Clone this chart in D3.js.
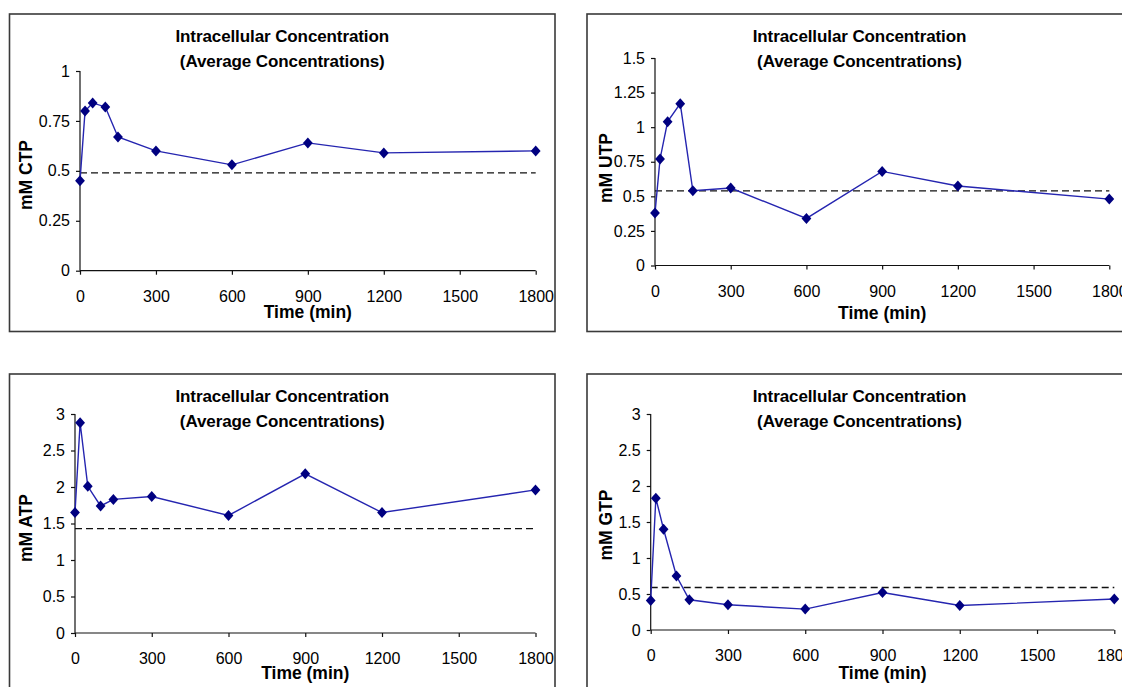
<!DOCTYPE html>
<html>
<head>
<meta charset="utf-8">
<script src="https://cdn.jsdelivr.net/npm/d3@7"></script>
<style>
  html, body { margin: 0; padding: 0; background: #fff; }
  svg { display: block; }
  text { font-family: Arial, "Liberation Sans", sans-serif; fill: #000; }
</style>
</head>
<body>
<svg id="chart" width="1122" height="687"></svg>
<script>
// Sampling times (min), shared by every panel
const times = [0, 20, 50, 100, 150, 300, 600, 900, 1200, 1800];

// Average intracellular concentrations (mM)
const ctp = [0.45, 0.80, 0.84, 0.82, 0.67, 0.60, 0.53, 0.64, 0.59, 0.60];
const utp = [0.38, 0.77, 1.04, 1.17, 0.54, 0.56, 0.34, 0.68, 0.575, 0.48];
const atp = [1.65, 2.88, 2.01, 1.74, 1.83, 1.87, 1.61, 2.18, 1.65, 1.96];
const gtp = [0.41, 1.83, 1.40, 0.75, 0.42, 0.35, 0.29, 0.52, 0.34, 0.43];

// Reference (dashed) level for each nucleotide
const nucleotides = ["CTP", "UTP", "ATP", "GTP"];
const referenceLevels = [0.49, 0.54, 1.43, 0.59];

// Axis ticks
const xTicks = [0, 300, 600, 900, 1200, 1500, 1800];
const yTicksSmall = [0, 0.25, 0.5, 0.75, 1];
const yTicksMid = [0, 0.25, 0.5, 0.75, 1, 1.25, 1.5];
const yTicksLarge = [0, 0.5, 1, 1.5, 2, 2.5, 3];

const titleLines = ["Intracellular Concentration", "(Average Concentrations)"];
const xTitle = "Time (min)";

const series = [ctp, utp, atp, gtp];
const yTickSets = [yTicksSmall, yTicksMid, yTicksLarge, yTicksLarge];

// Panel layout (pixel geometry)
const layout = [
  { frame: [9.5, 14, 555, 331.5], x0: 80, x1: 535.7, yTop: 71, yBot: 270.7, titleY: 36, xTitleY: 312, yTitleX: 26, yTitleY: 175 },
  { frame: [587, 14, 1132, 331.5], x0: 655, x1: 1109.3, yTop: 58, yBot: 265.5, titleY: 36, xTitleY: 312.5, yTitleX: 606, yTitleY: 168 },
  { frame: [9.5, 374, 555, 700], x0: 75, x1: 535.5, yTop: 414, yBot: 633, titleY: 396, xTitleY: 672.5, yTitleX: 26, yTitleY: 528 },
  { frame: [587, 374, 1132, 700], x0: 650.7, x1: 1114.3, yTop: 414, yBot: 630, titleY: 396, xTitleY: 672.5, yTitleX: 606, yTitleY: 525 }
];

// Diamond marker, a little wider than d3's built-in diamond
const diamond = {
  draw(ctx, size) {
    const w = 4.9, h = 5.5;
    ctx.moveTo(0, -h); ctx.lineTo(w, 0); ctx.lineTo(0, h); ctx.lineTo(-w, 0); ctx.closePath();
  }
};

const svg = d3.select("#chart");

nucleotides.forEach((name, i) => {
  const L = layout[i];
  const values = series[i];
  const yTicks = yTickSets[i];
  const g = svg.append("g");

  // Outer frame
  const [fx0, fy0, fx1, fy1] = L.frame;
  g.append("rect")
    .attr("x", fx0).attr("y", fy0)
    .attr("width", fx1 - fx0).attr("height", fy1 - fy0)
    .attr("fill", "none").attr("stroke", "#3a3a3a").attr("stroke-width", 1.6);

  const x = d3.scaleLinear().domain([0, 1800]).range([L.x0, L.x1]);
  const y = d3.scaleLinear().domain([0, d3.max(yTicks)]).range([L.yBot, L.yTop]);

  // Titles
  const cx = (fx0 + fx1) / 2;
  titleLines.forEach((t, k) => {
    g.append("text")
      .attr("x", cx).attr("y", L.titleY + k * 25)
      .attr("text-anchor", "middle").attr("dominant-baseline", "central")
      .attr("font-size", 17).attr("font-weight", "bold")
      .attr("letter-spacing", -0.1)
      .text(t);
  });

  // Axes
  const xAxis = d3.axisBottom(x).tickValues(xTicks).tickSize(4).tickPadding(16).tickFormat(d => String(d));
  const yAxis = d3.axisLeft(y).tickValues(yTicks).tickSize(4).tickPadding(6).tickFormat(d => String(d));

  const gx = g.append("g").attr("transform", `translate(0,${L.yBot})`).call(xAxis);
  const gy = g.append("g").attr("transform", `translate(${L.x0},0)`).call(yAxis);
  [gx, gy].forEach(a => {
    a.select(".domain").attr("stroke", "#111").attr("stroke-width", 1.2);
    a.selectAll(".tick line").attr("stroke", "#111").attr("stroke-width", 1.2);
    a.selectAll(".tick text").attr("font-size", 16).attr("font-family", "Arial, 'Liberation Sans', sans-serif").attr("fill", "#111");
  });
  // Plain axis lines without the outer end caps
  gy.select(".domain").attr("d", `M0,${L.yTop}V${L.yBot}`);
  gx.select(".domain").attr("d", `M${L.x0},0H${L.x1}`);

  // Axis titles
  g.append("text")
    .attr("x", (L.x0 + L.x1) / 2).attr("y", L.xTitleY)
    .attr("text-anchor", "middle").attr("dominant-baseline", "central")
    .attr("font-size", 17.5).attr("font-weight", "bold")
    .text(xTitle);
  g.append("text")
    .attr("transform", `translate(${L.yTitleX},${L.yTitleY}) rotate(-90)`)
    .attr("text-anchor", "middle").attr("dominant-baseline", "central")
    .attr("font-size", 17.5).attr("font-weight", "bold")
    .text("mM " + name);

  // Dashed reference level
  g.append("line")
    .attr("x1", x(0)).attr("x2", x(1800))
    .attr("y1", y(referenceLevels[i])).attr("y2", y(referenceLevels[i]))
    .attr("stroke", "#111").attr("stroke-width", 1.3).attr("stroke-dasharray", "7,4");

  // Concentration series
  const pts = times.map((t, k) => [t, values[k]]);
  g.append("path")
    .datum(pts)
    .attr("fill", "none").attr("stroke", "#2525b0").attr("stroke-width", 1.4)
    .attr("d", d3.line().x(d => x(d[0])).y(d => y(d[1])));

  g.selectAll("path.marker").data(pts).join("path")
    .attr("class", "marker")
    .attr("transform", d => `translate(${x(d[0])},${y(d[1])})`)
    .attr("d", d3.symbol().type(diamond))
    .attr("fill", "#000080");
});
</script>
</body>
</html>
